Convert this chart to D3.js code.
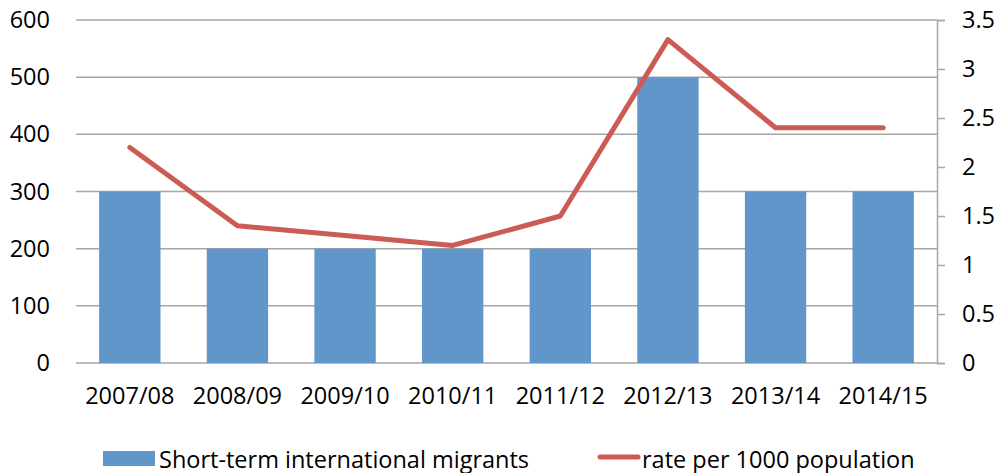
<!DOCTYPE html>
<html>
<head>
<meta charset="utf-8">
<style>
  body { margin: 0; background: #fff; }
  text { font-family: "Open Sans", sans-serif; fill: #000; }
</style>
</head>
<body>
<script src="https://d3js.org/d3.v7.min.js"></script>
<script>
// chart values
var years = ["2007/08", "2008/09", "2009/10", "2010/11", "2011/12", "2012/13", "2013/14", "2014/15"];
var migrants = [300, 200, 200, 200, 200, 500, 300, 300];
var rate = [2.2, 1.4, 1.3, 1.2, 1.5, 3.3, 2.4, 2.4];
var leftTicks = [0, 100, 200, 300, 400, 500, 600];
var rightTicks = [0, 0.5, 1, 1.5, 2, 2.5, 3, 3.5];
var barName = "Short-term international migrants";
var lineName = "rate per 1000 population";

var W = 999, H = 473;
// plot area (window.top is reserved, so use own names)
var plotL = 76, plotR = 937, plotT = 20, plotB = 363;
var fontSize = 23.5;

var svg = d3.select("body").append("svg")
    .attr("width", W)
    .attr("height", H);

var x = d3.scaleBand()
    .domain(years)
    .range([plotL, plotR])
    .paddingInner(0.43)
    .paddingOuter(0.215);
var xc = d3.scaleBand().domain(years).range([plotL, plotR]);

var yL = d3.scaleLinear().domain([0, 600]).range([plotB, plotT]);
var yR = d3.scaleLinear().domain([0, 3.5]).range([plotB, plotT]);

// gridlines
svg.append("g")
  .selectAll("line")
  .data(leftTicks)
  .enter().append("line")
    .attr("x1", plotL).attr("x2", plotR)
    .attr("y1", function(d) { return yL(d); })
    .attr("y2", function(d) { return yL(d); })
    .attr("stroke", "#a6a6a6")
    .attr("stroke-width", 1.5);

// bars
svg.append("g")
  .selectAll("rect")
  .data(migrants)
  .enter().append("rect")
    .attr("x", function(d, i) { return x(years[i]); })
    .attr("y", function(d) { return yL(d); })
    .attr("width", x.bandwidth())
    .attr("height", function(d) { return plotB - yL(d); })
    .attr("fill", "#6096c9");

// line
var line = d3.line()
    .x(function(d, i) { return xc(years[i]) + xc.bandwidth() / 2; })
    .y(function(d) { return yR(d); });

svg.append("path")
    .datum(rate)
    .attr("d", line)
    .attr("fill", "none")
    .attr("stroke", "#cc5b54")
    .attr("stroke-width", 5)
    .attr("stroke-linejoin", "round")
    .attr("stroke-linecap", "round");

// left axis (labels only)
var gl = svg.append("g")
    .attr("transform", "translate(" + plotL + ",0)")
    .call(d3.axisLeft(yL).tickValues(leftTicks).tickSize(0).tickPadding(26));
gl.select(".domain").remove();
gl.selectAll("text").style("font-size", fontSize + "px").attr("font-family", null);

// right axis
var gr = svg.append("g")
    .attr("transform", "translate(" + plotR + ",0)")
    .call(d3.axisRight(yR).tickValues(rightTicks).tickSize(8).tickPadding(17)
      .tickFormat(function(d) { return String(d); }));
gr.selectAll("path, line").attr("stroke", "#a6a6a6").attr("stroke-width", 1.5);
gr.selectAll("text").style("font-size", fontSize + "px").attr("font-family", null);

// x labels
var gx = svg.append("g")
    .attr("transform", "translate(0," + plotB + ")")
    .call(d3.axisBottom(xc).tickSize(0).tickPadding(24));
gx.select(".domain").remove();
gx.selectAll("text").style("font-size", fontSize + "px").attr("font-family", null);

// legend
var lg = svg.append("g");
lg.append("rect")
    .attr("x", 103).attr("y", 451).attr("width", 52).attr("height", 15)
    .attr("fill", "#6096c9");
lg.append("text")
    .attr("x", 159).attr("y", 468)
    .style("font-size", fontSize + "px")
    .text(barName);
lg.append("line")
    .attr("x1", 600).attr("x2", 638).attr("y1", 457).attr("y2", 457)
    .attr("stroke", "#cc5b54").attr("stroke-width", 5)
    .attr("stroke-linecap", "round");
lg.append("text")
    .attr("x", 642).attr("y", 468)
    .style("font-size", fontSize + "px")
    .text(lineName);
</script>
</body>
</html>
